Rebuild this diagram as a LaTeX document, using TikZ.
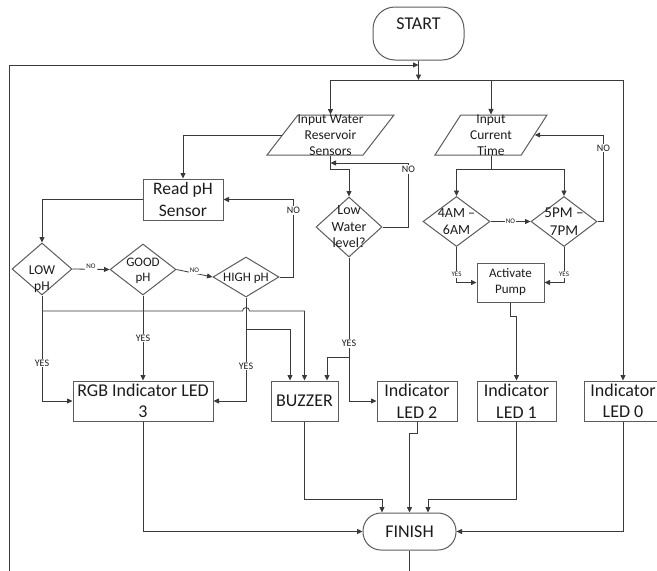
\documentclass[tikz,border=0pt]{standalone}
\usepackage{fontspec}
\setmainfont{Carlito}
\usepackage{xcolor}
\usepackage{tikz}
\usetikzlibrary{arrows.meta,calc,shapes.geometric}
\definecolor{fcLine}{HTML}{3A3A3A}
\definecolor{fcBorder}{HTML}{5C5C5C}
\definecolor{fcText}{HTML}{1C1C1C}
\newcommand{\fsz}[2]{\fontsize{#1}{#2}\selectfont}
\tikzset{
 arr/.style={-{Triangle[length=5.5pt,width=5pt]}, draw=fcLine, line width=0.8pt},
 procbox/.style={draw=fcBorder, line width=1pt, text=fcText, align=center, inner sep=0pt, font=\fsz{18}{21.5}},
 termbox/.style={procbox, rounded corners=#1},
 dec/.style 2 args={diamond, draw=fcBorder, line width=1pt, inner sep=0pt, minimum width=#1, minimum height=#2},
 iobox/.style 2 args={trapezium, trapezium left angle=#1, trapezium right angle=#2, trapezium stretches=true, draw=fcBorder, line width=1pt, inner sep=1pt},
 lbltxt/.style={text=fcText, align=center, inner sep=0pt},
 yn/.style={font=\fsz{10}{12}, text=fcText, fill=white, inner sep=1pt},
 ynsmall/.style={yn, font=\fsz{7}{8}},
}

\begin{document}
\begin{tikzpicture}[x=1pt,y=-1pt]
\useasboundingbox (0,0) rectangle (657,571);
\node[termbox=22pt, minimum width=91pt, minimum height=53pt, text height=12pt, text depth=21pt] (start) at (418.5,33.5) {START};
\node[iobox={64.6}{115.4}, minimum width=127pt, minimum height=40pt, label={[lbltxt, font=\fsz{13.5}{15.8}]center:{Input Water\\Reservoir\\Sensors}}] (iw) at (330.5,135) {};
\node[iobox={67}{113}, minimum width=112pt, minimum height=40pt, label={[lbltxt, font=\fsz{13.5}{15.8}]center:{Input\\Current\\Time}}] (ict) at (491,135) {};
\node[procbox, minimum width=80pt, minimum height=41pt, font=\fsz{17.5}{21.5}] (rph) at (183,199.5) {Read pH\\Sensor};
\node[dec={60pt}{52pt}, label={[lbltxt, font=\fsz{13.5}{16.5}, yshift=-10pt]center:{LOW\\pH}}] (low) at (42,269) {};
\node[dec={66pt}{51pt}, label={[lbltxt, font=\fsz{13}{15.5}, yshift=-1.5pt]center:{GOOD\\pH}}] (good) at (143,269.5) {};
\node[dec={66pt}{40pt}, label={[lbltxt, font=\fsz{13}{15}, yshift=-1.5pt]center:{HIGH pH}}] (high) at (246,277) {};
\node[dec={66pt}{60pt}, label={[lbltxt, font=\fsz{14}{16.5}]center:{Low\\Water\\level?}}] (lw) at (349,227) {};
\node[dec={67pt}{50pt}, label={[lbltxt, font=\fsz{14}{17}]center:{4AM –\\6AM}}] (am) at (456.5,221.5) {};
\node[dec={66pt}{50pt}, label={[lbltxt, font=\fsz{15}{18}]center:{5PM –\\7PM}}] (pm) at (564,221.5) {};
\node[procbox, minimum width=67pt, minimum height=39pt, font=\fsz{13}{16}] (pump) at (510.5,282.5) {Activate\\Pump};
\node[procbox, minimum width=140pt, minimum height=40pt] (rgb) at (143,401) {RGB Indicator LED\\3};
\node[procbox, minimum width=67pt, minimum height=40pt] (buz) at (304.5,401) {BUZZER};
\node[procbox, minimum width=80pt, minimum height=40pt] (led2) at (417,401) {Indicator\\LED 2};
\node[procbox, minimum width=79pt, minimum height=40pt] (led1) at (516.5,401) {Indicator\\LED 1};
\node[procbox, minimum width=78pt, minimum height=40pt] (led0) at (623,401) {Indicator\\LED 0};
\node[termbox=18pt, minimum width=93pt, minimum height=37pt] (fin) at (409.5,531.5) {FINISH};
\coordinate (split) at (418.5,80);
\coordinate (loopc) at (9,578);
\draw[arr] (start.south) -- (split);
\draw[arr] (split) -| (iw.north);
\draw[arr] (split) -| (ict.north);
\draw[arr] (split) -| (led0.north);
\draw[arr] (fin.south) |- (loopc) |- (start.south |- 0,65);
\draw[arr] (iw.west) -| (rph.north);
\draw[arr] (iw.south) -- ++(0,14) -| (lw.north);
\draw[arr] (lw.east) -- ++(26,0) |- node[yn, pos=0.45]{NO} (iw.south |- 0,163);
\draw[arr] (rph.west) -| (low.north);
\draw[arr] (low.east) -- node[ynsmall, yshift=3pt]{NO} (good.west);
\draw[arr] (good.east) -- node[ynsmall, yshift=3pt]{NO} (high.west);
\draw[arr] (high.east) -- ++(14,0) |- node[yn, pos=0.43]{NO} (rph.east);
\draw[arr] (low.south) |- node[yn, pos=0.32]{YES} (rgb.west);
\draw[arr] (good.south) -- node[yn]{YES} (rgb.north);
\draw[arr] (high.south) |- node[yn, pos=0.33]{YES} (rgb.east);
\draw[arr] (low.south |- 0,311) -- ($(high.south |- 0,311)+(-3.5,0)$) arc[start angle=180, end angle=0, radius=3.5pt] -| (buz.north);
\draw[arr] (high.south |- 0,329) -| ([xshift=-14.5pt]buz.north);
\draw[arr] (lw.south) |- node[yn, pos=0.3]{YES} (led2.west);
\draw[arr] (lw.south |- 0,357) -| ([xshift=22.5pt]buz.north);
\draw[arr] (ict.south) -- ++(0,14) -| (am.north);
\draw[arr] (ict.south) -- ++(0,14) -| (pm.north);
\draw[arr] (am.east) -- node[ynsmall]{NO} (pm.west);
\draw[arr] (pm.east) -- ++(6,0) |- node[yn, pos=0.425]{NO} (ict.east);
\draw[arr] (am.south) |- node[ynsmall, pos=0.39]{YES} (pump.west);
\draw[arr] (pm.south) |- node[ynsmall, pos=0.39]{YES} (pump.east);
\draw[arr] (pump.south) -- ++(0,14) -| (led1.north);
\draw[arr] (rgb.south) |- (fin.west);
\draw[arr] (buz.south) -- ++(0,78) -| ([xshift=-27.5pt]fin.north);
\draw[arr] (led2.south) -- ++(0,12) -| (fin.north);
\draw[arr] (led1.south) -- ++(0,78) -| ([xshift=18.5pt]fin.north);
\draw[arr] (led0.south) |- (fin.east);
\end{tikzpicture}
\end{document}
